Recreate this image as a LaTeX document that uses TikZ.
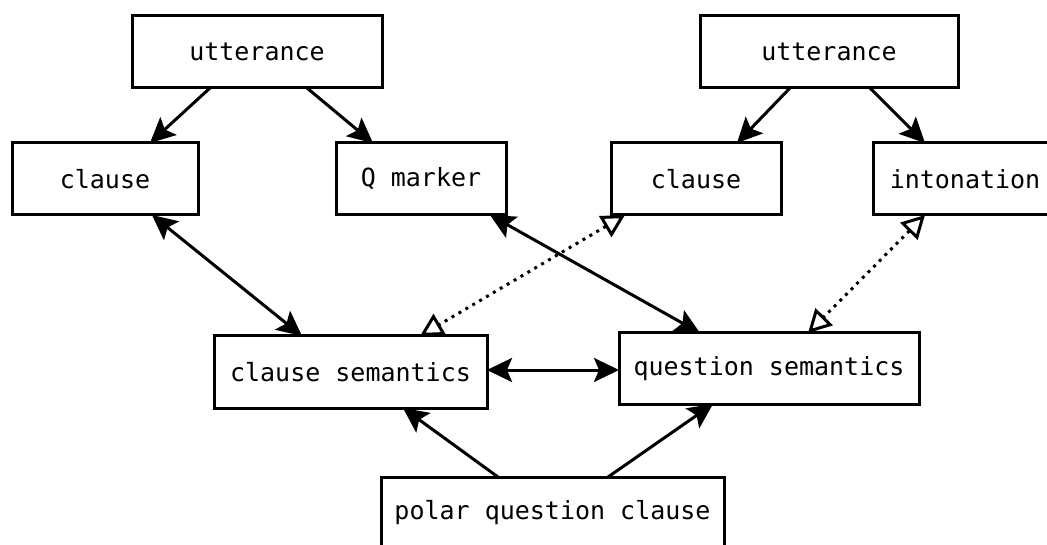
\documentclass[tikz,border=0pt]{standalone}
\usepackage{fontspec}
\setmainfont{DejaVu Sans Mono}
\usetikzlibrary{arrows.meta}
\tikzset{
  box/.style={draw, line width=3pt, inner sep=0pt, outer sep=0pt, fill=white,
    font=\fontsize{25}{30}\selectfont},
  tipS/.tip={Stealth[length=25pt,width=24pt,inset=5pt]},
  tipO/.tip={Triangle[open,length=23pt,width=24pt,line width=3pt]},
  solidarr/.style={line width=3pt, -tipS},
  solidboth/.style={line width=3pt, tipS-tipS},
  dotboth/.style={line width=3pt, dash pattern=on 3pt off 5pt, tipO-tipO},
}
\begin{document}
\begin{tikzpicture}[x=1pt,y=-1pt]
\useasboundingbox (0,0) rectangle (1047,545);
\fill[white] (0,0) rectangle (1047,545);
\begin{scope}
\clip (0,0) rectangle (1047,545);
\node[box, minimum width=250pt, minimum height=72pt] (uL) at (257,52) {utterance};
\node[box, minimum width=258pt, minimum height=72pt] (uR) at (829,52) {utterance};
\node[box, minimum width=186pt, minimum height=72pt] (cL) at (105,179) {clause};
\node[box, minimum width=170pt, minimum height=72pt] (qm) at (421,179) {Q marker};
\node[box, minimum width=170pt, minimum height=72pt] (cR) at (696,179) {clause};
\node[box, minimum width=184pt, minimum height=72pt] (into) at (965,179) {intonation};
\node[box, minimum width=273pt, minimum height=72pt] (cs) at (350.5,372) {clause semantics};
\node[box, minimum width=300pt, minimum height=71pt] (qs) at (769,368.5) {question semantics};
\node[box, minimum width=343pt, minimum height=72pt] (pq) at (552.5,513) {polar question clause};

\draw[solidarr] ([xshift=-47pt]uL.south) -- ([xshift=45pt]cL.north);
\draw[solidarr] ([xshift=50pt]uL.south) -- ([xshift=-48pt]qm.north);
\draw[solidarr] ([xshift=-39pt]uR.south) -- ([xshift=41pt]cR.north);
\draw[solidarr] ([xshift=41pt]uR.south) -- ([xshift=-40pt]into.north);
\draw[solidboth] ([xshift=47pt]cL.south) -- ([xshift=-48.5pt]cs.north);
\draw[solidboth] ([xshift=69pt]qm.south) -- ([xshift=-69pt]qs.north);
\draw[dotboth] ([xshift=-71pt]cR.south) -- ([xshift=69.5pt]cs.north);
\draw[dotboth] ([xshift=-40pt]into.south) -- ([xshift=39pt]qs.north);
\draw[solidboth] ([yshift=2pt]cs.east) -- ([yshift=2pt]cs.east -| qs.west);
\draw[solidarr] ([xshift=-54.5pt]pq.north) -- ([xshift=52.5pt]cs.south);
\draw[solidarr] ([xshift=55.5pt]pq.north) -- ([xshift=-56pt]qs.south);
\end{scope}
\end{tikzpicture}
\end{document}
